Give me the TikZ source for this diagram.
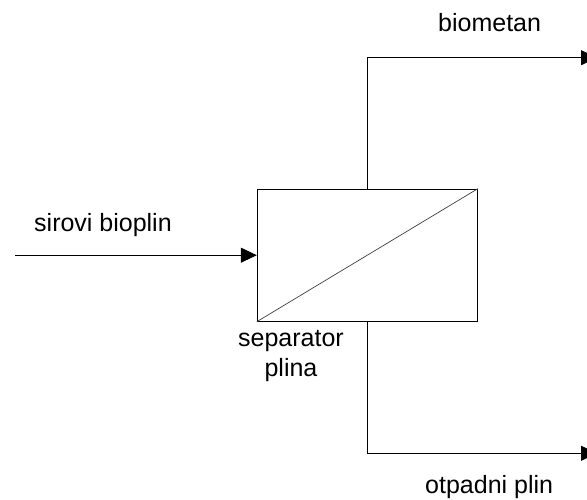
\documentclass[tikz,border=0pt]{standalone}
\usepackage{fontspec}
\setmainfont{Liberation Sans}
\usetikzlibrary{arrows.meta}
\begin{document}
\begin{tikzpicture}[x=1pt,y=1pt,
  conn/.style={line width=1pt,-{Triangle[length=16pt,width=15pt]}},
  lbl/.style={inner sep=0pt,font=\fontsize{25}{30.5}\selectfont},
  sepbox/.style={draw,line width=1pt,minimum width=220pt,minimum height=132pt,inner sep=0pt}]
\clip (0,0) rectangle (587,-499);
\fill[white] (0,0) rectangle (587,-499);
\node[sepbox] (sep) at (367.3,-255.2) {};
\draw[line width=0.7pt,black!75] (sep.south west) -- (sep.north east);
\coordinate (in) at (15,-255.2);
\coordinate (topend) at (597,-57.7);
\coordinate (botend) at (597,-453.3);
\draw[conn] (in) -- (sep.west);
\draw[conn] (sep.north) |- (topend);
\draw[conn] (sep.south) |- (botend);
\node[lbl,anchor=base west] (l1) at (34,-231) {sirovi bioplin};
\node[lbl,anchor=base west] (l2) at (438,-31.7) {biometan};
\node[lbl,anchor=base west] (l3) at (425,-493) {otpadni plin};
\node[lbl,anchor=base,align=center] (l4) at (291,-376.5) {separator\\plina};
\end{tikzpicture}
\end{document}
